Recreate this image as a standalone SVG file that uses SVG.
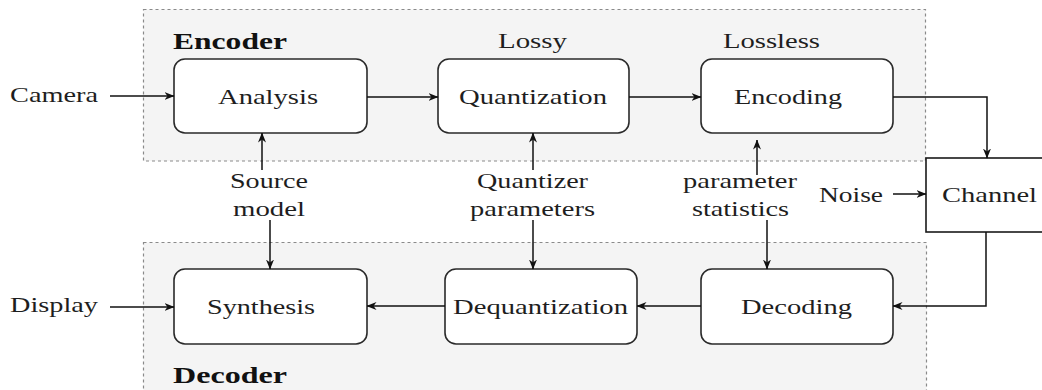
<svg xmlns="http://www.w3.org/2000/svg" width="1042" height="390" viewBox="0 0 1042 390">
  <style>
    .group { fill: #f4f4f4; stroke: #8a8a8a; stroke-width: 1.2; stroke-dasharray: 3 3; }
    .box { fill: #ffffff; stroke: #2a2a2a; stroke-width: 1.6; }
    .sq { fill: #ffffff; stroke: #1a1a1a; stroke-width: 1.6; }
    .lbl { font-family: "Liberation Serif", "Times New Roman", serif; font-size: 22px; fill: #1e1e1e; }
    .ttl { font-family: "Liberation Serif", "Times New Roman", serif; font-size: 23px; font-weight: bold; fill: #111111; }
    .edge { fill: none; stroke: #111111; stroke-width: 1.5; marker-end: url(#head); }
  </style>
  <defs>
    <marker id="head" viewBox="0 0 10 8" refX="9.5" refY="4" markerWidth="10" markerHeight="8" markerUnits="userSpaceOnUse" orient="auto">
      <path d="M0,0 L10,4 L0,8 L3,4 Z" fill="#111111"/>
    </marker>
  </defs>

  <rect width="1042" height="390" fill="#ffffff"/>

  <!-- encoder / decoder groupings -->
  <g id="encoder-group">
    <rect class="group" x="143.5" y="9.5" width="782" height="151.5"/>
    <text class="ttl" x="173" y="49" textLength="114" lengthAdjust="spacingAndGlyphs">Encoder</text>
  </g>
  <g id="decoder-group">
    <rect class="group" x="143.5" y="242.5" width="783" height="160"/>
    <text class="ttl" x="173" y="383" textLength="114" lengthAdjust="spacingAndGlyphs">Decoder</text>
  </g>

  <!-- encoder chain -->
  <g id="analysis">
    <rect class="box" x="174" y="59" width="193" height="74" rx="11"/>
    <text class="lbl" x="218" y="104" textLength="100" lengthAdjust="spacingAndGlyphs">Analysis</text>
  </g>
  <g id="quantization">
    <text class="lbl" x="498" y="48" textLength="69" lengthAdjust="spacingAndGlyphs">Lossy</text>
    <rect class="box" x="438" y="59" width="191" height="74" rx="11"/>
    <text class="lbl" x="459" y="104" textLength="148" lengthAdjust="spacingAndGlyphs">Quantization</text>
  </g>
  <g id="encoding">
    <text class="lbl" x="723" y="48" textLength="97" lengthAdjust="spacingAndGlyphs">Lossless</text>
    <rect class="box" x="701" y="59" width="192" height="74" rx="11"/>
    <text class="lbl" x="734" y="104" textLength="108" lengthAdjust="spacingAndGlyphs">Encoding</text>
  </g>

  <!-- decoder chain -->
  <g id="synthesis">
    <rect class="box" x="174" y="269" width="193" height="75" rx="11"/>
    <text class="lbl" x="207" y="314" textLength="108" lengthAdjust="spacingAndGlyphs">Synthesis</text>
  </g>
  <g id="dequantization">
    <rect class="box" x="445" y="269" width="192" height="75" rx="11"/>
    <text class="lbl" x="453" y="314" textLength="175" lengthAdjust="spacingAndGlyphs">Dequantization</text>
  </g>
  <g id="decoding">
    <rect class="box" x="701" y="269" width="192" height="75" rx="11"/>
    <text class="lbl" x="741" y="314" textLength="111" lengthAdjust="spacingAndGlyphs">Decoding</text>
  </g>

  <!-- channel -->
  <g id="channel">
    <rect class="sq" x="926" y="158" width="130" height="74"/>
    <text class="lbl" x="942" y="202" textLength="95" lengthAdjust="spacingAndGlyphs">Channel</text>
  </g>

  <!-- sources and sinks -->
  <g id="camera">
    <text class="lbl" x="10" y="102" textLength="88" lengthAdjust="spacingAndGlyphs">Camera</text>
  </g>
  <g id="display">
    <text class="lbl" x="10" y="312" textLength="88" lengthAdjust="spacingAndGlyphs">Display</text>
  </g>
  <g id="noise">
    <text class="lbl" x="819" y="202" textLength="64" lengthAdjust="spacingAndGlyphs">Noise</text>
  </g>

  <!-- shared side information -->
  <g id="source-model">
    <text class="lbl" x="230" y="188" textLength="78" lengthAdjust="spacingAndGlyphs">Source</text>
    <text class="lbl" x="233" y="216" textLength="72" lengthAdjust="spacingAndGlyphs">model</text>
  </g>
  <g id="quantizer-parameters">
    <text class="lbl" x="477" y="188" textLength="111" lengthAdjust="spacingAndGlyphs">Quantizer</text>
    <text class="lbl" x="470" y="216" textLength="125" lengthAdjust="spacingAndGlyphs">parameters</text>
  </g>
  <g id="parameter-statistics">
    <text class="lbl" x="683" y="188" textLength="114" lengthAdjust="spacingAndGlyphs">parameter</text>
    <text class="lbl" x="692" y="216" textLength="97" lengthAdjust="spacingAndGlyphs">statistics</text>
  </g>

  <!-- connectors -->
  <g id="connectors">
    <path class="edge" d="M110,96 H174"/>
    <path class="edge" d="M367,97 H438"/>
    <path class="edge" d="M629,97 H701"/>
    <path class="edge" d="M893,97 H987 V158"/>
    <path class="edge" d="M893,194 H926"/>
    <path class="edge" d="M986,232 V306 H893"/>
    <path class="edge" d="M701,306 H637"/>
    <path class="edge" d="M445,306 H367"/>
    <path class="edge" d="M110,307 H174"/>
    <path class="edge" d="M262,170 V133"/>
    <path class="edge" d="M270,220 V269"/>
    <path class="edge" d="M533,170 V133"/>
    <path class="edge" d="M533,220 V269"/>
    <path class="edge" d="M757,175 V140"/>
    <path class="edge" d="M767,220 V269"/>
  </g>
</svg>
